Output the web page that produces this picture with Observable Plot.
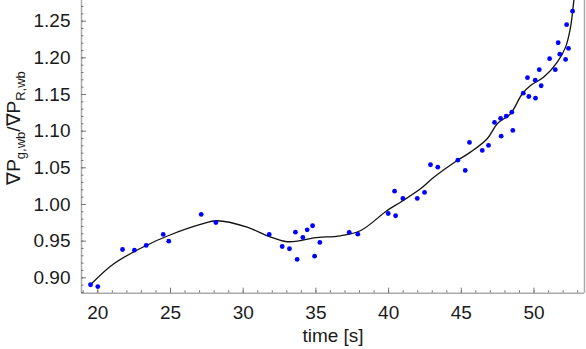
<!DOCTYPE html>
<html><head><meta charset="utf-8">
<script src="https://cdn.jsdelivr.net/npm/d3@7"></script>
<script src="https://cdn.jsdelivr.net/npm/@observablehq/plot@0.6"></script>
<style>body{margin:0;background:#fff}</style>
</head><body><div id="chart"></div>
<script>
// measured points: time [s], ratio
const times = [19.50,20.00,21.70,22.52,23.33,24.50,24.88,27.11,28.12,31.79,32.68,33.18,33.59,33.71,34.10,34.40,34.77,34.91,35.27,37.29,37.88,39.97,40.41,40.48,40.98,41.97,42.47,42.88,43.38,44.76,45.27,45.56,46.44,46.87,47.28,47.70,47.74,48.09,48.47,48.54,49.26,49.55,49.64,50.08,50.10,50.36,50.49,51.07,51.46,51.66,51.77,52.17,52.24,52.37,52.65];
const ratios = [0.8905,0.888,0.9386,0.9377,0.9441,0.9591,0.9499,0.9864,0.9754,0.9591,0.9427,0.9396,0.9622,0.925,0.955,0.9655,0.971,0.9295,0.9482,0.9620,0.9595,0.9877,1.0181,0.9846,1.0082,1.0082,1.0164,1.0542,1.0509,1.0604,1.0464,1.0846,1.0737,1.0805,1.1119,1.1173,1.0932,1.1205,1.1259,1.1010,1.1518,1.1729,1.1473,1.1696,1.1450,1.1838,1.1619,1.1988,1.1838,1.2206,1.2050,1.1978,1.2452,1.2128,1.2637];
// fitted smooth curve
const fitT = [19.50,21.10,23.33,24.88,27.06,28.21,30.27,31.79,32.91,33.71,34.86,36.69,38.08,39.90,40.82,42.19,43.11,44.72,45.63,46.78,47.47,48.38,49.19,49.76,50.67,51.60,52.17,52.51,52.74,52.90];
const fitV = [0.8905,0.9191,0.9441,0.9577,0.9727,0.9778,0.9690,0.9563,0.9495,0.9499,0.9546,0.9573,0.9645,0.9918,1.0031,1.0214,1.0372,1.0600,1.0714,1.0896,1.1101,1.1237,1.1510,1.1623,1.1737,1.1941,1.2146,1.2419,1.2783,1.30];
// axis ticks
const xMajor = [20,25,30,35,40,45,50];
const xMinor = d3.range(19,54);
const yMajor = [0.90,0.95,1.00,1.05,1.10,1.15,1.20,1.25];
const yMinor = d3.range(88,128).map(d => d/100);

const pts = times.map((t,i) => ({t, v: ratios[i]}));
const fit = fitT.map((t,i) => ({t, v: fitV[i]}));
const xDom = [18.88, 53.47], yDom = [0.879, 1.2782];
const tickCol = "#777", axisCol = "#aaa";

const chart = Plot.plot({
  width: 586, height: 349,
  marginLeft: 81, marginRight: 2, marginTop: 0, marginBottom: 56.3,
  style: {fontFamily: "'Liberation Sans', Arial, sans-serif", fontSize: "19px", color: "#1a1a1a", background: "#fff"},
  x: {domain: xDom},
  y: {domain: yDom},
  marks: [
    Plot.ruleX([xDom[0], xDom[1]], {stroke: axisCol, strokeWidth: 1.5}),
    Plot.ruleY([yDom[0]], {stroke: axisCol, strokeWidth: 1.5}),
    Plot.axisX({ticks: xMinor, tickSize: -2.5, tickFormat: () => "", stroke: tickCol, label: null}),
    Plot.axisX({ticks: xMajor, tickSize: -5, tickFormat: () => "", stroke: tickCol, label: null}),
    Plot.axisX({ticks: xMajor, tickSize: 0, tickPadding: 12, fontSize: 19, label: null}),
    Plot.axisY({ticks: yMinor, tickSize: -2.5, tickFormat: () => "", stroke: tickCol, label: null}),
    Plot.axisY({ticks: yMajor, tickSize: -5, tickFormat: () => "", stroke: tickCol, label: null}),
    Plot.axisY({ticks: yMajor, tickSize: 0, tickPadding: 11, fontSize: 19, tickFormat: d3.format(".2f"), label: null}),
    Plot.line(fit, {x: "t", y: "v", curve: "catmull-rom", stroke: "#111", strokeWidth: 1.3, clip: true}),
    Plot.dot(pts, {x: "t", y: "v", r: 2.4, fill: "#0000ff", stroke: "none"}),
    Plot.text(["time [s]"], {frameAnchor: "bottom", lineAnchor: "middle", dy: 43, fontSize: 19, fill: "#1a1a1a"})
  ]
});
document.getElementById("chart").append(chart);

// y-axis label with subscripts
const svg = d3.select(chart.tagName.toLowerCase() === "svg" ? chart : chart.querySelector("svg"));
const lab = svg.append("text")
  .attr("transform", "translate(20,128) rotate(-90)")
  .attr("text-anchor", "middle")
  .attr("fill", "#1a1a1a")
  .style("font-size", "19px");
lab.append("tspan").text("\u2207P");
lab.append("tspan").attr("dy", 5).style("font-size", "13px").text("g,wb");
lab.append("tspan").attr("dy", -5).text("/\u2207P");
lab.append("tspan").attr("dy", 5).style("font-size", "13px").text("R,wb");
</script></body></html>
